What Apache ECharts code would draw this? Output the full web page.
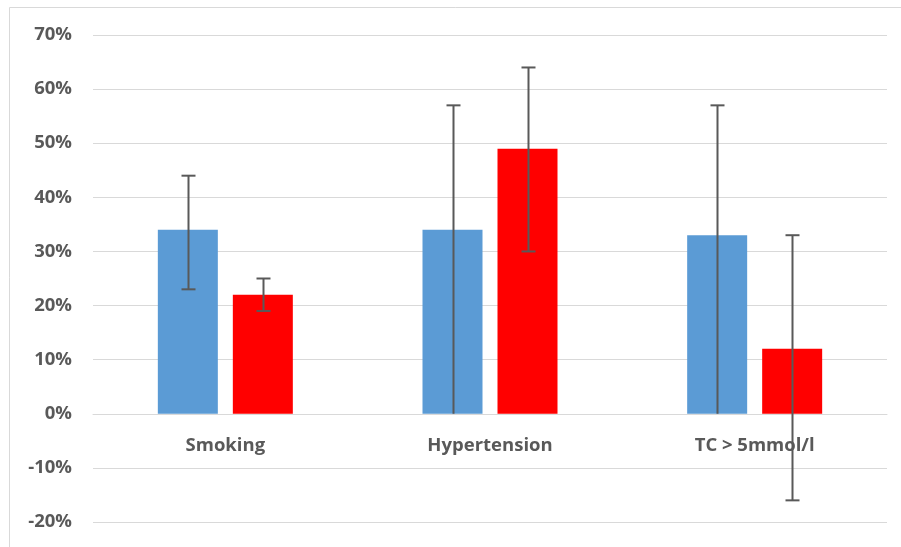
<!DOCTYPE html>
<html>
<head>
<meta charset="utf-8">
<script src="https://cdn.jsdelivr.net/npm/echarts@6/dist/echarts.min.js"></script>
<style>html,body{margin:0;padding:0;background:#fff}#c{width:901px;height:547px}</style>
</head>
<body>
<div id="c"></div>
<script>
var categories = ['Smoking', 'Hypertension', 'TC > 5mmol/l'];
var blueValues = [34, 34, 33];
var redValues = [22, 49, 12];
var blueLow = [23, 0, 0];
var blueHigh = [44, 57, 57];
var redLow = [19, 30, -16];
var redHigh = [25, 64, 33];
var yTicks = { min: -20, max: 70, interval: 10 };

var errData = [];
for (var i = 0; i < categories.length; i++) {
  errData.push([i, blueLow[i], blueHigh[i], 0]);
  errData.push([i, redLow[i], redHigh[i], 1]);
}

var BAR_W = 60, BAR_GAP = 15, CAP = 7;
var GRID_TOP = 35, GRID_BOTTOM = 25, H = 547;
var plotH = H - GRID_TOP - GRID_BOTTOM;
var zeroOffset = -plotH * (0 - yTicks.min) / (yTicks.max - yTicks.min);
var font = '"Open Sans", "Noto Sans", sans-serif';

var chart = echarts.init(document.getElementById('c'), null, { renderer: 'canvas' });
chart.setOption({
  animation: false,
  backgroundColor: '#fff',
  graphic: [{
    type: 'rect', shape: { x: 9.5, y: 7.5, width: 900, height: 560 },
    style: { fill: 'none', stroke: '#d9d9d9', lineWidth: 1 }, silent: true, z: -10
  }],
  grid: { left: 93, right: 14, top: GRID_TOP, bottom: GRID_BOTTOM, containLabel: false, outerBoundsMode: 'none' },
  xAxis: {
    type: 'category',
    data: categories,
    position: 'bottom',
    offset: zeroOffset,
    axisLine: { onZero: false, lineStyle: { color: '#d9d9d9', width: 1 } },
    axisTick: { show: false },
    axisLabel: { color: '#595959', fontFamily: font, fontWeight: 'bold', fontSize: 18.5, margin: 22 }
  },
  yAxis: {
    type: 'value',
    min: yTicks.min, max: yTicks.max, interval: yTicks.interval,
    axisLine: { show: false },
    axisTick: { show: false },
    splitLine: { lineStyle: { color: '#d9d9d9', width: 1 } },
    axisLabel: { color: '#595959', fontFamily: font, fontWeight: 'bold', fontSize: 18.5, margin: 21,
      formatter: function (v) { return v + '%'; } }
  },
  series: [
    { type: 'bar', data: blueValues, barWidth: BAR_W, barGap: '25%', itemStyle: { color: '#5b9bd5' } },
    { type: 'bar', data: redValues, barWidth: BAR_W, barGap: '25%', itemStyle: { color: '#ff0000' } },
    {
      type: 'custom',
      data: errData,
      z: 10,
      renderItem: function (params, api) {
        var cat = api.value(0), lo = api.value(1), hi = api.value(2), s = api.value(3);
        var off = (s === 0 ? -1 : 1) * (BAR_W + BAR_GAP) / 2;
        var pLo = api.coord([cat, lo]);
        var pHi = api.coord([cat, hi]);
        var x = Math.round(pLo[0] + off) + 0.5;
        var st = { stroke: '#595959', lineWidth: 2 };
        var children = [
          { type: 'line', shape: { x1: x, y1: pLo[1], x2: x, y2: pHi[1] }, style: st },
          { type: 'line', shape: { x1: x - CAP, y1: pHi[1], x2: x + CAP, y2: pHi[1] }, style: st }
        ];
        if (lo !== 0) {
          children.push({ type: 'line', shape: { x1: x - CAP, y1: pLo[1], x2: x + CAP, y2: pLo[1] }, style: st });
        }
        return { type: 'group', children: children };
      }
    }
  ]
});
</script>
</body>
</html>
